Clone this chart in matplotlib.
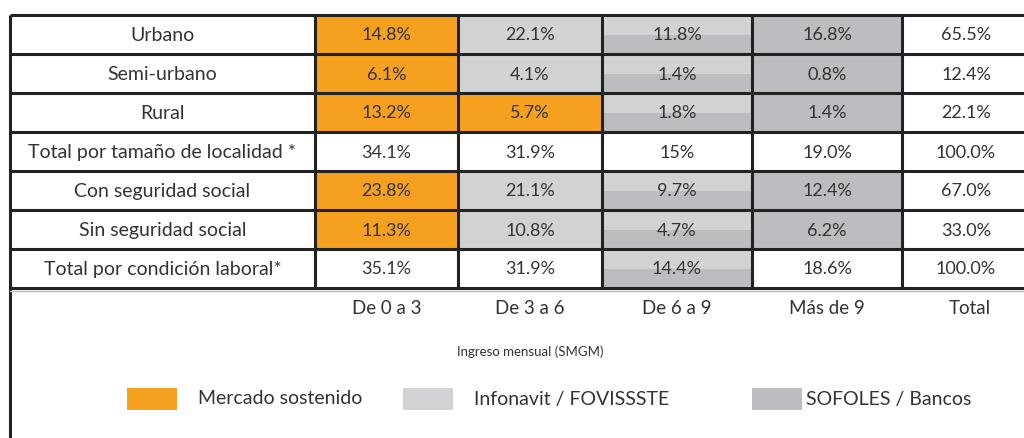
import matplotlib
matplotlib.use("Agg")
import matplotlib.pyplot as plt
from matplotlib.patches import Rectangle

# ---------------------------------------------------------------------------
#   DATA
# ---------------------------------------------------------------------------

row_labels = [
    "Urbano",
    "Semi-urbano",
    "Rural",
    "Total por tamaño de localidad *",
    "Con seguridad social",
    "Sin seguridad social",
    "Total por condición laboral*",
]
col_labels = ["De 0 a 3", "De 3 a 6", "De 6 a 9", "Más de 9", "Total"]
values = [
    ["14.8%", "22.1%", "11.8%", "16.8%", "65.5%"],
    ["6.1%", "4.1%", "1.4%", "0.8%", "12.4%"],
    ["13.2%", "5.7%", "1.8%", "1.4%", "22.1%"],
    ["34.1%", "31.9%", "15%", "19.0%", "100.0%"],
    ["23.8%", "21.1%", "9.7%", "12.4%", "67.0%"],
    ["11.3%", "10.8%", "4.7%", "6.2%", "33.0%"],
    ["35.1%", "31.9%", "14.4%", "18.6%", "100.0%"],
]
# segment per cell: M = mercado, I = infonavit, S = sofoles, X = split I/S, W = none
segments = [
    ["M", "I", "X", "S", "W"],
    ["M", "I", "X", "S", "W"],
    ["M", "M", "X", "S", "W"],
    ["W", "W", "W", "W", "W"],
    ["M", "I", "X", "S", "W"],
    ["M", "I", "X", "S", "W"],
    ["W", "W", "X", "W", "W"],
]
x_title = "Ingreso mensual (SMGM)"
legend_labels = ["Mercado sostenido", "Infonavit / FOVISSSTE", "SOFOLES / Bancos"]

# ---------------------------------------------------------------------------
#   STYLE / LAYOUT
# ---------------------------------------------------------------------------

ORANGE = "#F5A11F"
LIGHT = "#D1D2D4"
DARK = "#BCBDC0"
WHITE = "#FFFFFF"
LINE = "#222222"
TEXT = "#333333"
colors = {"M": ORANGE, "I": LIGHT, "S": DARK, "W": WHITE}

plt.rcParams["font.family"] = ["Lato", "DejaVu Sans"]

col_edges = [10, 315, 458, 602, 752, 902, 1030]
top, row_h = 15, 39.0

fig = plt.figure(figsize=(10.24, 4.38), dpi=100)
ax = fig.add_axes([0, 0, 1, 1])
ax.set_xlim(0, 1024)
ax.set_ylim(438, 0)
ax.axis("off")

n_rows = len(row_labels)
for i, label in enumerate(row_labels):
    y0 = top + i * row_h
    yc = y0 + row_h / 2
    ax.text((col_edges[0] + col_edges[1]) / 2, yc + 1, label, ha="center",
            va="center", fontsize=14, color=TEXT)
    for j, val in enumerate(values[i]):
        x0, x1 = col_edges[j + 1], col_edges[j + 2]
        seg = segments[i][j]
        if seg == "X":
            ax.add_patch(Rectangle((x0, y0), x1 - x0, row_h, color=DARK, lw=0))
            ax.add_patch(Rectangle((x0, y0), x1 - x0, row_h * 0.5, color=LIGHT, lw=0))
        else:
            ax.add_patch(Rectangle((x0, y0), x1 - x0, row_h, color=colors[seg], lw=0))
        ax.text((x0 + x1) / 2, yc + 1, val, ha="center", va="center",
                fontsize=13, color=TEXT)

# grid lines
bottom = top + n_rows * row_h
for k in range(n_rows + 1):
    ax.plot([col_edges[0], 1024], [top + k * row_h] * 2, color=LINE, lw=2.2,
            solid_capstyle="butt")
for x in col_edges[1:-1]:
    ax.plot([x, x], [top, bottom], color=LINE, lw=2.2, solid_capstyle="butt")
ax.plot([col_edges[0], col_edges[0]], [top, 438], color=LINE, lw=2.2,
        solid_capstyle="butt")
ax.plot([col_edges[0], 1024], [bottom + 3, bottom + 3], color="#BBBBBB", lw=1)

# column labels
for j, lab in enumerate(col_labels):
    ax.text((col_edges[j + 1] + col_edges[j + 2]) / 2 if j < 4 else 970, 309, lab,
            ha="center", va="center", fontsize=13.5, color=TEXT)
ax.text(530, 352, x_title, ha="center", va="center", fontsize=9.5, color=TEXT)

# legend
leg_x = [127, 403, 752]
leg_text_x = [198, 474, 806]
for c, lx, tx, lab in zip([ORANGE, LIGHT, DARK], leg_x, leg_text_x, legend_labels):
    ax.add_patch(Rectangle((lx, 388), 50, 22, color=c, lw=0))
    ax.text(tx, 399, lab, ha="left", va="center", fontsize=14, color=TEXT)

fig.savefig("out.png", dpi=100)
